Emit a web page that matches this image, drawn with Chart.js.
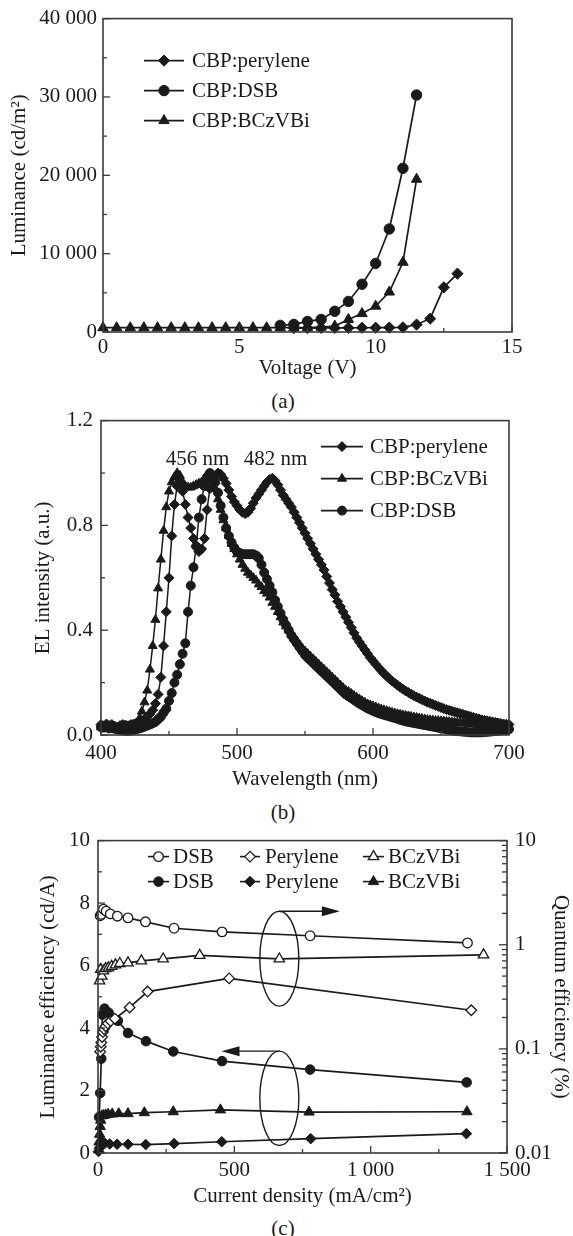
<!DOCTYPE html>
<html>
<head>
<meta charset="utf-8">
<script src="https://cdn.jsdelivr.net/npm/chart.js@4.4.1/dist/chart.umd.min.js"></script>
<style>
  html, body { margin: 0; padding: 0; background: #fff; }
  #page { position: relative; width: 573px; height: 1236px; }
  canvas { position: absolute; left: 0; }
  .cap { position: absolute; left: 0; width: 566px; text-align: center;
         font: 21px 'Liberation Serif', 'Times New Roman', serif; line-height: 24px; color: #1a1a1a; }
</style>
</head>
<body>
<div id="page">
  <canvas id="chartA" width="573" height="385" style="top:0"></canvas>
  <div class="cap" style="top:389px">(a)</div>
  <canvas id="chartB" width="573" height="396" style="top:400px"></canvas>
  <div class="cap" style="top:800px">(b)</div>
  <canvas id="chartC" width="573" height="393" style="top:820px"></canvas>
  <div class="cap" style="top:1216px">(c)</div>
</div>
<script>
// ---------- (a) luminance vs voltage ----------
const voltage = [0, 0.5, 1, 1.5, 2, 2.5, 3, 3.5, 4, 4.5, 5, 5.5, 6, 6.5, 7, 7.5, 8, 8.5, 9, 9.5, 10, 10.5, 11, 11.5, 12, 12.5, 13];
const lumPerylene = [null, null, null, null, null, null, null, null, null, null, null, null, null, null,
  500, 500, 520, 520, 530, 540, 550, 560, 600, 950, 1700, 5700, 7450];
const lumDSB = [null, null, null, null, null, null, null, null, null, null, null, null, null,
  850, 970, 1350, 1600, 2650, 3900, 6100, 8750, 13150, 20900, 30250, null, null, null];
const lumBCzVBi = [550, 550, 550, 550, 550, 550, 550, 550, 550, 550, 550, 550, 550, 550, 550, 550,
  620, 750, 1600, 2350, 3300, 5100, 8900, 19500, null, null, null];
const lumTicks = [0, 10000, 20000, 30000, 40000];
const lumMinor = [5000, 15000, 25000, 35000];
const voltTicks = [0, 5, 10, 15];
const voltMinor = [2.5, 7.5, 12.5];

// ---------- (b) EL spectra ----------
const wavelength = [
  400, 402, 404, 406, 408, 410, 412, 414, 416, 418,
  420, 422, 424, 426, 428, 430, 432, 434, 436, 438,
  440, 442, 444, 446, 448, 450, 452, 454, 456, 458,
  460, 462, 464, 466, 468, 470, 472, 474, 476, 478,
  480, 482, 484, 486, 488, 490, 492, 494, 496, 498,
  500, 502, 504, 506, 508, 510, 512, 514, 516, 518,
  520, 522, 524, 526, 528, 530, 532, 534, 536, 538,
  540, 542, 544, 546, 548, 550, 552, 554, 556, 558,
  560, 562, 564, 566, 568, 570, 572, 574, 576, 578,
  580, 582, 584, 586, 588, 590, 592, 594, 596, 598,
  600, 602, 604, 606, 608, 610, 612, 614, 616, 618,
  620, 622, 624, 626, 628, 630, 632, 634, 636, 638,
  640, 642, 644, 646, 648, 650, 652, 654, 656, 658,
  660, 662, 664, 666, 668, 670, 672, 674, 676, 678,
  680, 682, 684, 686, 688, 690, 692, 694, 696, 698,
  700];
const elPerylene = [
  0.040, 0.035, 0.042, 0.036, 0.040, 0.034, 0.030, 0.036, 0.040, 0.038,
  0.035, 0.040, 0.042, 0.045, 0.050, 0.055, 0.060, 0.070, 0.080, 0.095,
  0.12, 0.155, 0.22, 0.34, 0.47, 0.60, 0.76, 0.88, 0.95, 0.97,
  0.93, 0.88, 0.83, 0.79, 0.75, 0.72, 0.70, 0.71, 0.75, 0.86,
  0.94, 0.975, 0.99, 1.0, 0.995, 0.98, 0.96, 0.935, 0.91, 0.89,
  0.875, 0.86, 0.85, 0.845, 0.85, 0.865, 0.885, 0.905, 0.92, 0.935,
  0.95, 0.965, 0.975, 0.98, 0.97, 0.955, 0.935, 0.915, 0.90, 0.885,
  0.87, 0.85, 0.83, 0.81, 0.79, 0.77, 0.75, 0.73, 0.71, 0.69,
  0.67, 0.65, 0.63, 0.605, 0.58, 0.555, 0.535, 0.51, 0.49, 0.47,
  0.45, 0.43, 0.41, 0.39, 0.37, 0.355, 0.34, 0.325, 0.31, 0.295,
  0.283, 0.27, 0.258, 0.246, 0.235, 0.225, 0.215, 0.206, 0.198, 0.19,
  0.182, 0.175, 0.168, 0.162, 0.156, 0.15, 0.145, 0.14, 0.135, 0.13,
  0.125, 0.121, 0.117, 0.113, 0.109, 0.105, 0.101, 0.097, 0.094, 0.091,
  0.088, 0.085, 0.082, 0.079, 0.076, 0.073, 0.070, 0.067, 0.064, 0.061,
  0.058, 0.056, 0.054, 0.052, 0.050, 0.048, 0.046, 0.044, 0.042, 0.041,
  0.040];
const elBCzVBi = [
  0.030, 0.026, 0.032, 0.028, 0.033, 0.029, 0.027, 0.025, 0.029, 0.031,
  0.030, 0.032, 0.035, 0.045, 0.060, 0.09, 0.125, 0.17, 0.25, 0.34,
  0.44, 0.56, 0.67, 0.78, 0.87, 0.93, 0.965, 0.985, 1.0, 0.99,
  0.965, 0.95, 0.945, 0.945, 0.95, 0.955, 0.96, 0.965, 0.97, 0.975,
  0.975, 0.97, 0.94, 0.90, 0.86, 0.82, 0.79, 0.76, 0.73, 0.71,
  0.69, 0.67, 0.65, 0.635, 0.62, 0.61, 0.60, 0.59, 0.575, 0.565,
  0.55, 0.54, 0.525, 0.505, 0.49, 0.47, 0.45, 0.43, 0.415, 0.40,
  0.385, 0.37, 0.355, 0.34, 0.33, 0.32, 0.31, 0.30, 0.29, 0.28,
  0.27, 0.26, 0.25, 0.24, 0.23, 0.22, 0.21, 0.20, 0.19, 0.18,
  0.17, 0.165, 0.158, 0.15, 0.143, 0.137, 0.13, 0.124, 0.118, 0.114,
  0.110, 0.106, 0.102, 0.098, 0.095, 0.092, 0.089, 0.086, 0.083, 0.080,
  0.078, 0.076, 0.074, 0.072, 0.070, 0.068, 0.066, 0.064, 0.062, 0.060,
  0.058, 0.057, 0.056, 0.055, 0.054, 0.053, 0.052, 0.051, 0.050, 0.049,
  0.048, 0.047, 0.046, 0.045, 0.044, 0.043, 0.042, 0.041, 0.040, 0.039,
  0.038, 0.037, 0.036, 0.035, 0.034, 0.034, 0.033, 0.032, 0.031, 0.031,
  0.030];
const elDSB = [
  0.030, 0.028, 0.031, 0.025, 0.028, 0.024, 0.022, 0.020, 0.018, 0.016,
  0.015, 0.018, 0.020, 0.022, 0.025, 0.028, 0.032, 0.036, 0.040, 0.045,
  0.050, 0.060, 0.070, 0.085, 0.10, 0.13, 0.16, 0.20, 0.23, 0.27,
  0.31, 0.35, 0.47, 0.57, 0.64, 0.72, 0.83, 0.90, 0.95, 0.985,
  1.0, 0.99, 0.965, 0.925, 0.875, 0.83, 0.79, 0.76, 0.735, 0.715,
  0.70, 0.695, 0.69, 0.69, 0.69, 0.69, 0.69, 0.685, 0.675, 0.65,
  0.62, 0.595, 0.57, 0.545, 0.515, 0.49, 0.465, 0.44, 0.42, 0.40,
  0.38, 0.365, 0.35, 0.335, 0.32, 0.305, 0.295, 0.285, 0.275, 0.265,
  0.255, 0.245, 0.235, 0.225, 0.215, 0.205, 0.195, 0.185, 0.175, 0.165,
  0.155, 0.148, 0.141, 0.134, 0.127, 0.12, 0.114, 0.108, 0.102, 0.097,
  0.092, 0.088, 0.084, 0.080, 0.077, 0.074, 0.071, 0.068, 0.065, 0.062,
  0.058, 0.055, 0.052, 0.050, 0.048, 0.046, 0.044, 0.042, 0.040, 0.038,
  0.036, 0.034, 0.032, 0.030, 0.028, 0.026, 0.024, 0.022, 0.020, 0.018,
  0.016, 0.015, 0.014, 0.013, 0.012, 0.011, 0.010, 0.010, 0.010, 0.010,
  0.010, 0.011, 0.012, 0.013, 0.014, 0.015, 0.016, 0.018, 0.019, 0.020,
  0.022];
const elTicks = [0, 0.4, 0.8, 1.2];
const elMinor = [0.2, 0.6, 1.0];
const wlTicks = [400, 500, 600, 700];
const wlMinor = [450, 550, 650];
const peakTags = [{ text: '456 nm', nm: 471, v: 1.052 }, { text: '482 nm', nm: 528.3, v: 1.052 }];

// ---------- (c) efficiency vs current density ----------
const jQeDSB = [8, 12, 20, 30, 45, 71, 110, 174, 279, 455, 778, 1355];
const qeDSB = [1.9, 1.96, 2.2, 2.1, 1.98, 1.88, 1.81, 1.66, 1.44, 1.33, 1.22, 1.04];
const jQePerylene = [8, 10, 12, 15, 18, 22, 28, 36, 46, 62, 116, 182, 481, 1369];
const qePerylene = [0.094, 0.105, 0.115, 0.13, 0.145, 0.155, 0.165, 0.175, 0.185, 0.195, 0.25, 0.355, 0.475, 0.235];
const jQeBCzVBi = [6, 10, 14, 20, 28, 38, 50, 64, 80, 110, 159, 239, 373, 665, 1414];
const qeBCzVBi = [0.45, 0.58, 0.5, 0.56, 0.59, 0.6, 0.62, 0.64, 0.66, 0.67, 0.7, 0.73, 0.79, 0.73, 0.8];
const jLeDSB = [4, 8, 12, 16, 24, 39, 73, 110, 176, 276, 455, 778, 1352];
const leDSB = [1.15, 1.92, 3.02, 4.43, 4.62, 4.49, 4.23, 3.84, 3.58, 3.25, 2.94, 2.67, 2.26];
const jLePerylene = [2, 5, 8, 12, 16, 25, 43, 70, 110, 175, 279, 454, 780, 1351];
const lePerylene = [0.05, 0.15, 0.3, 0.38, 0.34, 0.31, 0.29, 0.28, 0.28, 0.27, 0.3, 0.36, 0.46, 0.62];
const jLeBCzVBi = [2, 4, 6, 8, 10, 14, 20, 28, 37, 52, 76, 110, 170, 276, 449, 774, 1353];
const leBCzVBi = [0.1, 0.35, 0.6, 0.85, 1.05, 1.19, 1.2, 1.22, 1.24, 1.25, 1.26, 1.26, 1.29, 1.32, 1.38, 1.31, 1.32];
const jTicks = [0, 500, 1000, 1500];
const jMinor = [250, 750, 1250];
const leTicks = [0, 2, 4, 6, 8, 10];
const leMinor = [1, 3, 5, 7, 9];
const qeTicks = [0.01, 0.1, 1, 10];
const qeTickLabels = ['0.01', '0.1', '1', '10'];
const qeMinor = [0.02, 0.03, 0.04, 0.05, 0.06, 0.07, 0.08, 0.09, 0.2, 0.3, 0.4, 0.5, 0.6, 0.7, 0.8, 0.9,
  2, 3, 4, 5, 6, 7, 8, 9];
// ellipse + arrow marks (current density, cd/A): centre, top of loop, arrow tip
const loopMarks = [{ j: 665, center: 6.22, top: 7.74, tip: 887 }, { j: 665, center: 1.75, top: 3.26, tip: 453 }];

const SERIF = "'Liberation Serif', 'Times New Roman', serif";
const INK = '#1a1a1a';
Chart.defaults.font.family = SERIF;
Chart.defaults.font.size = 21;
Chart.defaults.color = INK;
Chart.defaults.animation = false;

const spaced = v => String(v).replace(/\B(?=(\d{3})+(?!\d))/g, ' ');
const pts = (xs, ys) => xs.map((x, i) => ({ x: x, y: ys[i] }));
const fixTicks = arr => scale => { scale.ticks = arr.map(v => ({ value: v })); };

// box round the plot + inward tick marks
const frame = {
  id: 'frame',
  afterDatasetsDraw(chart, args, opts) {
    const { ctx, chartArea: a } = chart;
    ctx.save();
    ctx.strokeStyle = '#3a3a3a';
    ctx.lineWidth = 1.6;
    ctx.strokeRect(a.left, a.top, a.right - a.left, a.bottom - a.top);
    ctx.lineWidth = 1.3;
    for (const t of opts.marks) {
      const s = chart.scales[t.id];
      for (const v of t.values) {
        const p = s.getPixelForValue(v);
        ctx.beginPath();
        if (t.side === 'bottom') { ctx.moveTo(p, a.bottom); ctx.lineTo(p, a.bottom - t.len); }
        else if (t.side === 'left') { ctx.moveTo(a.left, p); ctx.lineTo(a.left + t.len, p); }
        else { ctx.moveTo(a.right, p); ctx.lineTo(a.right - t.len, p); }
        ctx.stroke();
      }
    }
    ctx.restore();
  }
};

// legend drawn inside the plot area
const keyBox = {
  id: 'keyBox',
  afterDatasetsDraw(chart, args, opts) {
    const { ctx, chartArea: a } = chart;
    ctx.save();
    ctx.font = '21px ' + SERIF;
    ctx.textBaseline = 'middle';
    for (const it of opts.items) {
      const ds = chart.data.datasets[it.ds];
      const y = a.top + it.y;
      ctx.strokeStyle = INK;
      ctx.lineWidth = 1.6;
      ctx.beginPath();
      ctx.moveTo(a.left + it.x0, y);
      ctx.lineTo(a.left + it.x1, y);
      ctx.stroke();
      ctx.fillStyle = ds.pointBackgroundColor;
      ctx.lineWidth = ds.pointBorderWidth;
      Chart.helpers.drawPoint(ctx, {
        pointStyle: ds.pointStyle, radius: ds.pointRadius, rotation: 0, borderWidth: ds.pointBorderWidth
      }, a.left + (it.x0 + it.x1) / 2, y);
      ctx.fillStyle = INK;
      ctx.fillText(ds.label, a.left + it.tx, y + 1);
    }
    ctx.restore();
  }
};

function series(label, data, style, radius, open, lw) {
  return {
    label: label,
    data: data,
    borderColor: INK,
    borderWidth: lw || 1.7,
    pointStyle: style,
    pointRadius: radius,
    pointBackgroundColor: open ? '#fff' : INK,
    pointBorderColor: INK,
    pointBorderWidth: open ? 1.3 : 1,
    tension: 0,
    clip: false
  };
}

function axis(opts) {
  return Object.assign({
    type: 'linear',
    grid: { display: false, drawTicks: false },
    border: { display: false },
    ticks: { autoSkip: false, maxRotation: 0, color: INK }
  }, opts);
}

// ---------- chart (a) ----------
new Chart(document.getElementById('chartA'), {
  type: 'line',
  data: {
    datasets: [
      series('CBP:perylene', pts(voltage, lumPerylene), 'rectRot', 5.6, false),
      series('CBP:DSB', pts(voltage, lumDSB), 'circle', 5.2, false),
      series('CBP:BCzVBi', pts(voltage, lumBCzVBi), 'triangle', 6, false)
    ]
  },
  options: {
    responsive: false,
    layout: { padding: { left: 0, right: 61, top: 17, bottom: 0 } },
    scales: {
      x: axis({
        min: 0, max: 15, afterBuildTicks: fixTicks(voltTicks),
        afterFit: s => { s.height = 53; },
        ticks: { autoSkip: false, maxRotation: 0, padding: 3 },
        title: { display: true, text: 'Voltage (V)', padding: { top: 0, bottom: 4 } }
      }),
      y: axis({
        min: 0, max: 40000, afterBuildTicks: fixTicks(lumTicks),
        afterFit: s => { s.width = 103; },
        ticks: { autoSkip: false, padding: 6, callback: v => spaced(v) },
        title: { display: true, text: 'Luminance (cd/m\u00b2)', padding: { top: 7, bottom: 0 } }
      })
    },
    plugins: {
      legend: { display: false },
      tooltip: { enabled: false },
      frame: {
        marks: [
          { id: 'x', side: 'bottom', values: voltTicks, len: 7 },
          { id: 'x', side: 'bottom', values: voltMinor, len: 4 },
          { id: 'y', side: 'left', values: lumTicks, len: 7 },
          { id: 'y', side: 'left', values: lumMinor, len: 4 }
        ]
      },
      keyBox: {
        items: [
          { ds: 0, x0: 41, x1: 81, y: 42, tx: 89 },
          { ds: 1, x0: 41, x1: 81, y: 72, tx: 89 },
          { ds: 2, x0: 41, x1: 81, y: 102, tx: 89 }
        ]
      }
    }
  },
  plugins: [frame, keyBox]
});

// ---------- chart (b) ----------
const peakLabels = {
  id: 'peakLabels',
  afterDatasetsDraw(chart) {
    const { ctx, scales } = chart;
    ctx.save();
    ctx.font = '21px ' + SERIF;
    ctx.fillStyle = INK;
    ctx.textAlign = 'center';
    ctx.textBaseline = 'middle';
    for (const p of peakTags) {
      ctx.fillText(p.text, scales.x.getPixelForValue(p.nm), scales.y.getPixelForValue(p.v));
    }
    ctx.restore();
  }
};

new Chart(document.getElementById('chartB'), {
  type: 'line',
  data: {
    datasets: [
      series('CBP:perylene', pts(wavelength, elPerylene), 'rectRot', 5, false, 1.5),
      series('CBP:BCzVBi', pts(wavelength, elBCzVBi), 'triangle', 5.2, false, 1.5),
      series('CBP:DSB', pts(wavelength, elDSB), 'circle', 4.5, false, 1.5)
    ]
  },
  options: {
    responsive: false,
    layout: { padding: { left: 0, right: 64, top: 17, bottom: 0 } },
    scales: {
      x: axis({
        min: 400, max: 700, afterBuildTicks: fixTicks(wlTicks),
        afterFit: s => { s.height = 61; },
        ticks: { autoSkip: false, maxRotation: 0, padding: 6 },
        title: { display: true, text: 'Wavelength (nm)', padding: { top: 0, bottom: 4 } }
      }),
      y: axis({
        min: 0, max: 1.2, afterBuildTicks: fixTicks(elTicks),
        afterFit: s => { s.width = 101; },
        ticks: { autoSkip: false, padding: 8, callback: v => v.toFixed(1) },
        title: { display: true, text: 'EL intensity (a.u.)', padding: { top: 31, bottom: 0 } }
      })
    },
    plugins: {
      legend: { display: false },
      tooltip: { enabled: false },
      frame: {
        marks: [
          { id: 'x', side: 'bottom', values: wlTicks, len: 7 },
          { id: 'x', side: 'bottom', values: wlMinor, len: 4 },
          { id: 'y', side: 'left', values: elTicks, len: 7 },
          { id: 'y', side: 'left', values: elMinor, len: 4 }
        ]
      },
      keyBox: {
        items: [
          { ds: 0, x0: 220, x1: 262, y: 26, tx: 269 },
          { ds: 1, x0: 220, x1: 262, y: 58, tx: 269 },
          { ds: 2, x0: 220, x1: 262, y: 90, tx: 269 }
        ]
      }
    }
  },
  plugins: [frame, keyBox, peakLabels]
});

// ---------- chart (c) ----------
const loops = {
  id: 'loops',
  afterDatasetsDraw(chart) {
    const { ctx, scales: { x, y } } = chart;
    ctx.save();
    ctx.strokeStyle = INK;
    ctx.fillStyle = INK;
    ctx.lineWidth = 1.4;
    for (const m of loopMarks) {
      const cx = x.getPixelForValue(m.j);
      const cy = y.getPixelForValue(m.center);
      const top = y.getPixelForValue(m.top);
      ctx.beginPath();
      ctx.ellipse(cx, cy, 19.5, cy - top, 0, 0, Math.PI * 2);
      ctx.stroke();
      const tip = x.getPixelForValue(m.tip);
      const dir = Math.sign(tip - cx);
      ctx.beginPath();
      ctx.moveTo(cx, top);
      ctx.lineTo(tip - dir * 10, top);
      ctx.stroke();
      ctx.beginPath();
      ctx.moveTo(tip, top);
      ctx.lineTo(tip - dir * 18, top - 5);
      ctx.lineTo(tip - dir * 18, top + 5);
      ctx.closePath();
      ctx.fill();
    }
    ctx.restore();
  }
};

const qe = (s) => Object.assign(s, { yAxisID: 'y2' });

new Chart(document.getElementById('chartC'), {
  type: 'line',
  data: {
    datasets: [
      qe(series('DSB', pts(jQeDSB, qeDSB), 'circle', 4.8, true)),
      qe(series('Perylene', pts(jQePerylene, qePerylene), 'rectRot', 5.3, true)),
      qe(series('BCzVBi', pts(jQeBCzVBi, qeBCzVBi), 'triangle', 6, true)),
      series('DSB', pts(jLeDSB, leDSB), 'circle', 4.8, false),
      series('Perylene', pts(jLePerylene, lePerylene), 'rectRot', 5.3, false),
      series('BCzVBi', pts(jLeBCzVBi, leBCzVBi), 'triangle', 6, false)
    ]
  },
  options: {
    responsive: false,
    layout: { padding: { left: 0, right: 0, top: 15, bottom: 0 } },
    scales: {
      x: axis({
        min: 0, max: 1500, afterBuildTicks: fixTicks(jTicks),
        afterFit: s => { s.height = 60; },
        ticks: { autoSkip: false, maxRotation: 0, padding: 5, callback: v => spaced(v) },
        title: { display: true, text: 'Current density (mA/cm\u00b2)', padding: { top: 0, bottom: 4 } }
      }),
      y: axis({
        min: 0, max: 10, position: 'left', afterBuildTicks: fixTicks(leTicks),
        afterFit: s => { s.width = 98; },
        ticks: { autoSkip: false, padding: 8 },
        title: { display: true, text: 'Luminance efficiency (cd/A)', padding: { top: 36, bottom: 0 } }
      }),
      y2: axis({
        type: 'logarithmic', min: 0.01, max: 10, position: 'right', afterBuildTicks: fixTicks(qeTicks),
        afterFit: s => { s.width = 66; },
        ticks: { autoSkip: false, padding: 8, callback: (v, i) => qeTickLabels[i] },
        title: { display: true, text: 'Quantum efficiency (%)', padding: { top: 0, bottom: 0 } }
      })
    },
    plugins: {
      legend: { display: false },
      tooltip: { enabled: false },
      frame: {
        marks: [
          { id: 'x', side: 'bottom', values: jTicks, len: 7 },
          { id: 'x', side: 'bottom', values: jMinor, len: 4 },
          { id: 'y', side: 'left', values: leTicks, len: 7 },
          { id: 'y', side: 'left', values: leMinor, len: 4 },
          { id: 'y2', side: 'right', values: qeTicks, len: 8 },
          { id: 'y2', side: 'right', values: qeMinor, len: 5 }
        ]
      },
      keyBox: {
        items: [
          { ds: 0, x0: 50, x1: 71, y: 16, tx: 75 },
          { ds: 1, x0: 142, x1: 162, y: 16, tx: 167 },
          { ds: 2, x0: 265, x1: 286, y: 16, tx: 290 },
          { ds: 3, x0: 50, x1: 71, y: 41, tx: 75 },
          { ds: 4, x0: 142, x1: 162, y: 41, tx: 167 },
          { ds: 5, x0: 265, x1: 286, y: 41, tx: 290 }
        ]
      }
    }
  },
  plugins: [frame, keyBox, loops]
});
</script>
</body>
</html>
